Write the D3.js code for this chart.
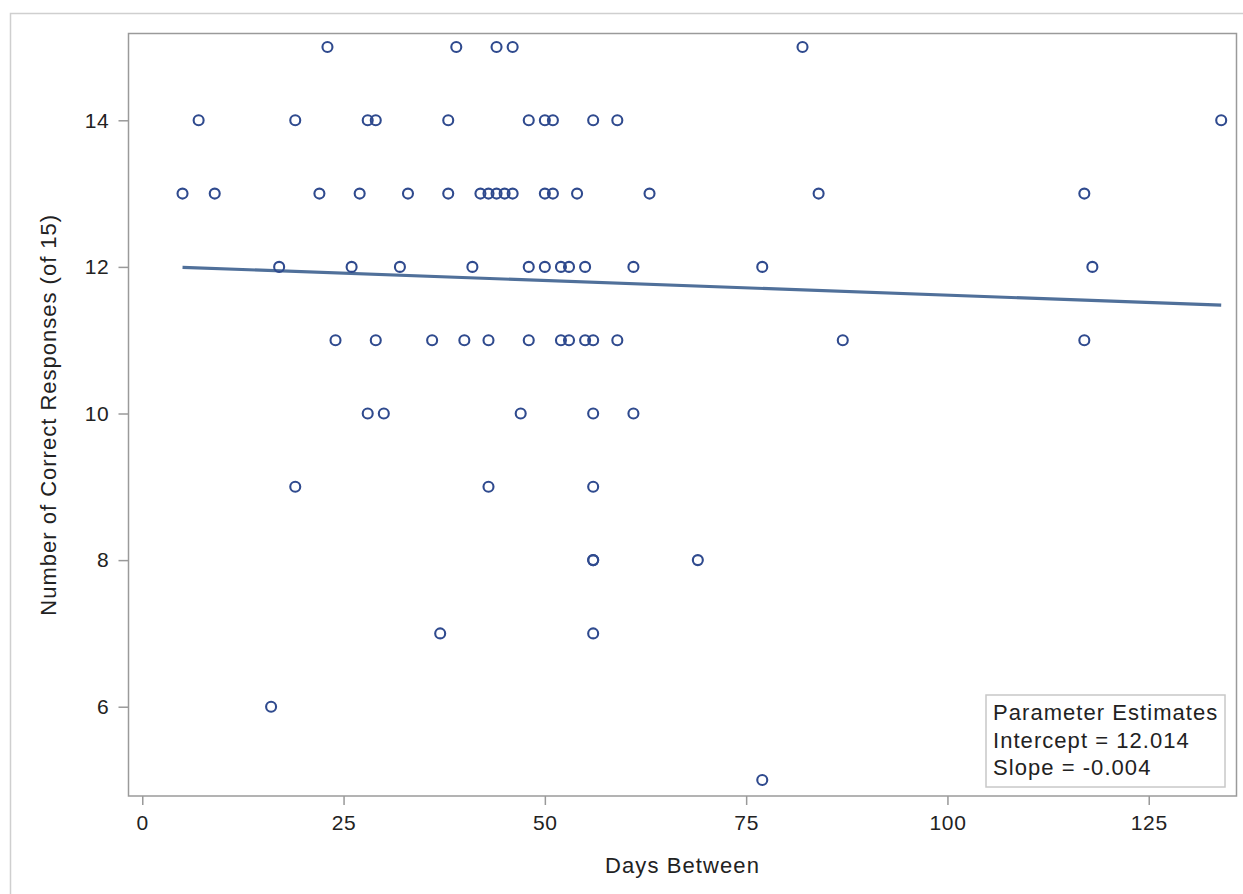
<!DOCTYPE html>
<html>
<head>
<meta charset="utf-8">
<script src="https://cdn.jsdelivr.net/npm/d3@7"></script>
<style>
  body { margin: 0; background: #fff; }
  text { font-family: "Liberation Sans", Arial, sans-serif; fill: #222; }
</style>
</head>
<body>
<div id="chart"></div>
<script>
// data
var days    = [23, 39, 44, 46, 82,
               7, 19, 28, 29, 38, 48, 50, 51, 56, 59, 134,
               5, 9, 22, 27, 33, 38, 42, 43, 44, 45, 46, 50, 51, 54, 63, 84, 117,
               17, 26, 32, 41, 48, 50, 52, 53, 55, 61, 77, 118,
               24, 29, 36, 40, 43, 48, 52, 53, 55, 56, 59, 87, 117,
               28, 30, 47, 56, 61,
               19, 43, 56,
               56, 56, 69,
               37, 56,
               16,
               77];
var correct = [15, 15, 15, 15, 15,
               14, 14, 14, 14, 14, 14, 14, 14, 14, 14, 14,
               13, 13, 13, 13, 13, 13, 13, 13, 13, 13, 13, 13, 13, 13, 13, 13, 13,
               12, 12, 12, 12, 12, 12, 12, 12, 12, 12, 12, 12,
               11, 11, 11, 11, 11, 11, 11, 11, 11, 11, 11, 11, 11,
               10, 10, 10, 10, 10,
               9, 9, 9,
               8, 8, 8,
               7, 7,
               6,
               5];
var xTicks = [0, 25, 50, 75, 100, 125];
var yTicks = [6, 8, 10, 12, 14];
var intercept = 12.014, slope = -0.004;
var legendLines = ["Parameter Estimates", "Intercept = 12.014", "Slope = -0.004"];

var W = 1243, H = 894;
var margin = {top: 33.5, right: 6.5, bottom: 98, left: 128.5},
    width = W - margin.left - margin.right,
    height = H - margin.top - margin.bottom;

var svg = d3.select("#chart").append("svg")
    .attr("width", W)
    .attr("height", H);

// outer graph border
svg.append("rect")
    .attr("x", 10.5).attr("y", 13.5)
    .attr("width", 1250).attr("height", 900)
    .attr("fill", "none")
    .attr("stroke", "#cfcfcf")
    .attr("stroke-width", 1.5);

var g = svg.append("g")
    .attr("transform", "translate(" + margin.left + "," + margin.top + ")");

var x = d3.scaleLinear().domain([-1.71, 135.9]).range([0, width]);
var y = d3.scaleLinear().domain([4.782, 15.184]).range([height, 0]);

// x axis
var xAxis = g.append("g")
    .attr("transform", "translate(0," + height + ")")
    .call(d3.axisBottom(x).tickValues(xTicks).tickSize(9).tickPadding(10).tickFormat(d3.format("d")));
xAxis.select(".domain").remove();
xAxis.selectAll(".tick line").attr("stroke", "#999").attr("stroke-width", 1.5);
xAxis.selectAll(".tick text")
    .style("font-size", "21px")
    .style("letter-spacing", "0.7px")
    .attr("fill", "#222");

// y axis
var yAxis = g.append("g")
    .call(d3.axisLeft(y).tickValues(yTicks).tickSize(10).tickPadding(9).tickFormat(d3.format("d")));
yAxis.select(".domain").remove();
yAxis.selectAll(".tick line").attr("stroke", "#999").attr("stroke-width", 1.5);
yAxis.selectAll(".tick text")
    .style("font-size", "21px")
    .style("letter-spacing", "0.7px")
    .attr("fill", "#222");

// plot frame
g.append("rect")
    .attr("width", width).attr("height", height)
    .attr("fill", "none")
    .attr("stroke", "#9a9a9a")
    .attr("stroke-width", 1.5);

// axis titles
svg.append("text")
    .attr("x", margin.left + width / 2)
    .attr("y", 873)
    .attr("text-anchor", "middle")
    .style("font-size", "22px")
    .style("letter-spacing", "1.1px")
    .text("Days Between");

svg.append("text")
    .attr("transform", "translate(56," + (margin.top + height / 2) + ") rotate(-90)")
    .attr("text-anchor", "middle")
    .style("font-size", "22px")
    .style("letter-spacing", "1px")
    .text("Number of Correct Responses (of 15)");

// fit line
var x0 = d3.min(days), x1 = d3.max(days);
g.append("line")
    .attr("x1", x(x0)).attr("y1", y(intercept + slope * x0))
    .attr("x2", x(x1)).attr("y2", y(intercept + slope * x1))
    .attr("stroke", "#50709a")
    .attr("stroke-width", 3.2);

// markers
g.selectAll("circle.pt")
    .data(days.map(function(d, i) { return [d, correct[i]]; }))
    .enter().append("circle")
    .attr("class", "pt")
    .attr("cx", function(d) { return x(d[0]); })
    .attr("cy", function(d) { return y(d[1]); })
    .attr("r", 5)
    .attr("fill", "none")
    .attr("stroke", "#2f4a8e")
    .attr("stroke-width", 2.1);

// parameter estimates box
var lg = svg.append("g").attr("transform", "translate(986,695)");
lg.append("rect")
    .attr("width", 239).attr("height", 92)
    .attr("fill", "#fff")
    .attr("stroke", "#c8c8c8")
    .attr("stroke-width", 1.5);
lg.selectAll("text")
    .data(legendLines)
    .enter().append("text")
    .attr("x", 7)
    .attr("y", function(d, i) { return 25 + i * 27.5; })
    .style("font-size", "22px")
    .style("letter-spacing", "1.05px")
    .text(function(d) { return d; });
</script>
</body>
</html>
